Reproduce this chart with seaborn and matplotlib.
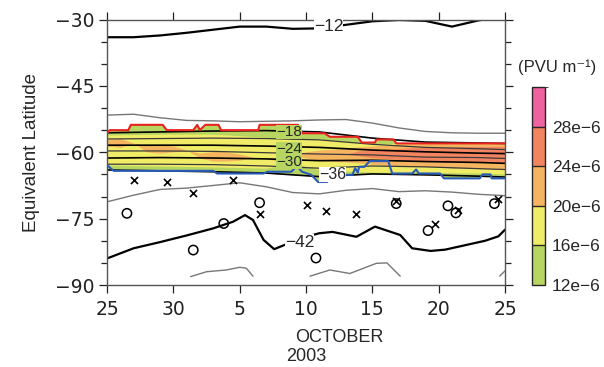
import numpy as np
import pandas as pd
import matplotlib
matplotlib.use("Agg")
import matplotlib.pyplot as plt
import seaborn as sns
from matplotlib.colors import ListedColormap, BoundaryNorm
from matplotlib.cm import ScalarMappable
from matplotlib.ticker import MultipleLocator

# x = days since 25 September 2003, y = equivalent latitude (deg)
tick_days = [0, 5, 10, 15, 20, 25, 30]
tick_labels = ["25", "30", "5", "10", "15", "20", "25"]

# PV contours outside the vortex edge
outer_days = [0, 2, 4, 6, 8, 10, 12, 14, 16, 18, 20, 22, 24, 26, 28, 30]
pv_m12 = [-34.0, -34.0, -33.6, -33.0, -32.3, -31.6, -31.6, -32.1, -32.0, -31.2,
          -30.4, -30.1, -30.3, -31.6, -30.2, -29.2]
pv_m15 = [-51.6, -51.4, -52.2, -52.8, -52.9, -53.1, -53.0, -52.9, -52.7, -52.6,
          -53.4, -54.5, -55.3, -55.6, -55.7, -55.7]
pv_m39 = [-71.2, -69.7, -68.4, -68.1, -67.5, -66.9, -67.8, -69.1, -69.4, -68.6,
          -68.2, -68.9, -68.7, -69.0, -69.5, -69.8]

m42_days = [0, 2, 4, 6, 8, 9.5, 10.4, 11, 11.8, 12.6, 13.5, 14.5, 16, 17, 18.8,
            20.2, 22.1, 23, 24.4, 25.5, 27, 28.5, 29.5, 30]
pv_m42 = [-84.0, -81.7, -80.3, -78.8, -77.2, -75.7, -74.2, -75.3, -79.8, -81.9,
          -80.8, -79.5, -78.3, -78.0, -79.1, -76.8, -78.7, -81.7, -82.3, -82.0,
          -81.0, -80.0, -79.0, -77.5]

m45_days = [6.3, 7.5, 9.0, 10.0, 10.5, 11.0, 15.3, 16.8, 18.3, 20.3, 21.1, 22.1, 29.6, 30]
m45_seg = [0, 0, 0, 0, 0, 0, 1, 1, 1, 1, 1, 1, 2, 2]
pv_m45 = [-88.1, -87.0, -86.6, -86.0, -86.2, -88.0, -88.0, -86.6, -87.4, -85.1,
          -85.0, -88.0, -88.0, -86.8]

# PV contours inside the jet
band_days = [0, 4, 8, 12, 16, 20, 24, 28, 30]
pv_m18 = [-55.6, -55.4, -55.2, -55.1, -55.4, -56.8, -57.7, -57.9, -58.0]
pv_m21 = [-57.0, -56.9, -56.8, -56.9, -57.2, -58.2, -58.9, -59.2, -59.4]
pv_m24 = [-58.4, -58.4, -58.4, -58.6, -58.9, -59.5, -59.9, -60.2, -60.3]
pv_m27 = [-59.7, -59.7, -59.8, -60.1, -60.4, -60.6, -61.1, -61.2, -61.4]
pv_m30 = [-61.3, -61.2, -61.3, -61.5, -61.9, -61.8, -62.1, -62.3, -62.5]
pv_m33 = [-62.7, -62.7, -62.8, -63.1, -63.6, -63.1, -63.3, -63.7, -63.9]
pv_m36 = [-64.0, -64.2, -64.4, -64.7, -65.5, -64.9, -65.1, -65.4, -65.6]

# vortex edge boundaries
red_days = [0, 0.2, 1.6, 1.8, 4.2, 4.5, 6.5, 6.8, 7.0, 7.4, 8.4, 8.6, 11.4, 11.5,
            14.4, 14.7, 16.4, 16.8, 18.9, 19.2, 20.2, 20.3, 21.6, 21.8, 30]
red_lat = [-55.7, -55.0, -55.0, -53.8, -53.8, -55.0, -55.0, -53.8, -55.0, -53.8,
           -53.8, -55.0, -55.0, -53.8, -53.8, -55.7, -55.7, -56.5, -56.5, -57.8,
           -57.8, -57.1, -57.1, -58.0, -58.0]
blue_days = [0, 0.5, 8.0, 8.3, 11.8, 12.1, 13.9, 14.3, 14.7, 15.4, 15.9, 16.6, 16.9,
             18.5, 18.7, 18.9, 19.0, 19.4, 19.8, 21.2, 21.5, 23.0, 23.3, 23.5, 25.1,
             25.4, 28.1, 28.3, 28.9, 29.0, 30]
blue_lat = [-62.9, -64.2, -64.2, -64.8, -64.8, -64.4, -64.4, -63.1, -64.4, -65.1,
            -66.7, -66.7, -65.1, -65.1, -63.6, -64.6, -63.3, -63.3, -62.0, -62.0,
            -64.8, -64.8, -63.9, -64.8, -64.8, -65.9, -65.9, -65.0, -65.0, -65.9, -65.9]

# PV gradient shading (12e-6 .. 32e-6 PVU/m), band edges per day
yel_days = [0, 4, 8, 12, 14, 16, 20, 24, 28, 30]
yel_top = [-56.1, -55.9, -55.9, -56.6, -57.2, -57.0, -58.1, -57.9, -58.1, -58.1]
yel_bot = [-62.9, -63.1, -63.3, -63.6, -62.4, -64.0, -64.5, -64.5, -64.7, -64.9]

org_days = list(range(31))
org_top = [-57.2, -56.9, -57.9, -58.4, -58.2, -58.6, -59.5, -60.2, -59.8, -59.9,
           -60.4, -61.1, -61.3, -61.1, -60.6, -59.9, -59.5, -59.3, -59.0, -58.8,
           -58.6, -58.4, -58.2, -58.1, -58.1, -58.1, -58.1, -58.1, -58.1, -58.1, -58.1]
org_bot = [-58.6, -58.9, -57.9, -59.9, -60.2, -59.9, -59.5, -61.3, -62.0, -62.0,
           -61.8, -61.1, -61.3, -62.2, -60.6, -61.3, -61.8, -62.0, -62.2, -62.4,
           -62.7, -62.9, -63.1, -63.1, -63.3, -63.3, -63.6, -63.6, -63.7, -63.8, -63.8]

sal_days = list(range(18, 31))
sal_top = [-60.4, -59.7, -59.5, -59.3, -59.2, -59.0, -58.9, -58.8, -58.8, -58.7,
           -58.7, -58.7, -58.7]
sal_bot = [-60.4, -60.8, -61.2, -61.4, -61.6, -61.9, -62.0, -62.1, -62.2, -62.2,
           -62.3, -62.3, -62.4]

# observation locations
cross_day = [2.0, 4.5, 6.5, 9.5, 11.5, 15.05, 16.5, 18.8, 21.8, 24.7, 26.45, 29.5]
cross_lat = [-66.3, -66.7, -69.1, -66.3, -74.0, -72.0, -73.2, -73.9, -71.0, -76.1, -73.0, -70.6]
circle_day = [1.5, 6.5, 8.8, 11.5, 15.75, 21.8, 25.7, 26.3, 24.2, 29.2]
circle_lat = [-73.8, -82.1, -76.1, -71.4, -83.9, -71.6, -72.1, -73.7, -77.7, -71.6]

# contour labels
label_text = ["\u221212", "\u221218", "\u221224", "\u221230", "\u221236", "\u221242"]
label_day = [16.7, 13.7, 13.7, 13.7, 17.0, 14.5]
label_lat = [-31.5, -55.4, -59.2, -62.1, -65.1, -80.3]
label_size = [12.5, 11, 11, 11, 11.5, 12.5]

cbar_bounds = [12, 16, 20, 24, 28, 32]
cbar_labels = ["12e\u22126", "16e\u22126", "20e\u22126", "24e\u22126", "28e\u22126"]
shade_colors = ["#b7d561", "#f0ec68", "#f5b560", "#f28560", "#ee62a0"]

sns.set_style("white")
plt.rcParams["font.family"] = ["Liberation Sans", "DejaVu Sans"]

fig = plt.figure(figsize=(6.04, 3.67), dpi=100)
ax = fig.add_axes([0.1772, 0.2234, 0.6589, 0.7234])

# shading
ax.fill(np.concatenate([red_days, blue_days[::-1]]),
        np.concatenate([red_lat, blue_lat[::-1]]),
        color=shade_colors[0], lw=0, zorder=1)
ax.fill_between(band_days, pv_m33, pv_m36, color=shade_colors[0], lw=0, zorder=1)
ax.fill_between(yel_days, yel_top, yel_bot, color=shade_colors[1], lw=0, zorder=1.1)
ax.fill_between(org_days, org_top, org_bot, color=shade_colors[2], lw=0, zorder=1.2)
ax.fill_between(sal_days, sal_top, sal_bot, color=shade_colors[3], lw=0, zorder=1.3)

# contours
line_kw = dict(ax=ax, sort=False, estimator=None, legend=False)
sns.lineplot(x=outer_days, y=pv_m12, color="black", linewidth=1.6, **line_kw)
sns.lineplot(x=outer_days, y=pv_m15, color="#777777", linewidth=1.0, **line_kw)
sns.lineplot(x=outer_days, y=pv_m39, color="#777777", linewidth=1.0, **line_kw)
sns.lineplot(x=m42_days, y=pv_m42, color="black", linewidth=1.6, **line_kw)
m45 = pd.DataFrame({"day": m45_days, "lat": pv_m45, "seg": m45_seg})
sns.lineplot(data=m45, x="day", y="lat", units="seg", color="#777777",
             linewidth=1.0, **line_kw)
for lat, even in [(pv_m18, True), (pv_m21, False), (pv_m24, True), (pv_m27, False),
                  (pv_m30, True), (pv_m33, False), (pv_m36, True)]:
    sns.lineplot(x=band_days, y=lat, color="black" if even else "#3a3a3a",
                 linewidth=1.2 if even else 0.9, **line_kw)

sns.lineplot(x=red_days, y=red_lat, color="#e8231f", linewidth=1.5, **line_kw)
sns.lineplot(x=blue_days, y=blue_lat, color="#2a5ab8", linewidth=1.5, **line_kw)
for line in ax.lines:
    line.set_zorder(2)
ax.lines[-1].set_zorder(3)
ax.lines[-2].set_zorder(3)

for txt, d, la, fs in zip(label_text, label_day, label_lat, label_size):
    bg = shade_colors[0] if -63 < la < -54 else "white"
    ax.text(d, la, txt, fontsize=fs, ha="center", va="center", zorder=4,
            bbox=dict(facecolor=bg, edgecolor="none", pad=0.1))

sns.scatterplot(x=cross_day, y=cross_lat, marker="x", color="black", s=26,
                linewidth=1.2, ax=ax, zorder=5)
sns.scatterplot(x=circle_day, y=circle_lat, marker="o", facecolor="none",
                edgecolor="black", s=45, linewidth=1.1, ax=ax, zorder=5)

ax.set_xlim(0, 30)
ax.set_ylim(-90, -30)
ax.set_xticks(tick_days)
ax.set_xticklabels(tick_labels)
ax.set_yticks([-90, -75, -60, -45, -30])
ax.yaxis.set_minor_locator(MultipleLocator(5))
ax.tick_params(which="both", direction="out", top=True, right=True, bottom=True,
               left=True, labelsize=13.5, colors="#222222", width=0.9)
ax.tick_params(which="major", length=6, pad=3)
ax.tick_params(which="minor", length=4)
ax.tick_params(axis="x", pad=5)
for lab in ax.get_xticklabels() + ax.get_yticklabels():
    lab.set_family("DejaVu Sans")
for sp in ax.spines.values():
    sp.set_color("#555555")
    sp.set_linewidth(1.0)
ax.set_xlabel("")
ax.set_ylabel("Equivalent Latitude", fontsize=13.5, labelpad=11)

tr = ax.get_xaxis_transform()
ax.text(17.5, -0.196, "OCTOBER", transform=tr, ha="center", va="center", fontsize=13)
ax.text(15.0, -0.268, "2003", transform=tr, ha="center", va="center", fontsize=13)

# colour bar
cax = fig.add_axes([0.8808, 0.2234, 0.0215, 0.5395])
cmap = ListedColormap(shade_colors)
norm = BoundaryNorm(cbar_bounds, cmap.N)
cb = fig.colorbar(ScalarMappable(norm=norm, cmap=cmap), cax=cax,
                  ticks=cbar_bounds[:-1], drawedges=True)
cb.ax.set_yticklabels(cbar_labels)
cb.ax.tick_params(length=0, labelsize=12.5, pad=5)
cb.outline.set_linewidth(1.0)
cb.dividers.set_linewidth(1.0)
fig.text(0.922, 0.817, "(PVU m\u207b\u00b9)", ha="center", va="center", fontsize=12)

fig.savefig("out.png", dpi=100)
